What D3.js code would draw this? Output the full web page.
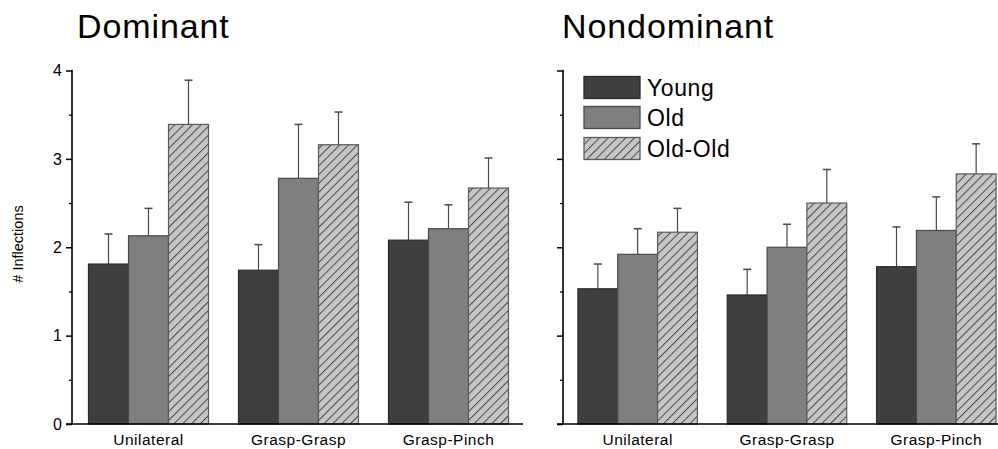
<!DOCTYPE html>
<html>
<head>
<meta charset="utf-8">
<script src="https://cdn.jsdelivr.net/npm/d3@7"></script>
<style>
  html, body { margin: 0; padding: 0; background: #fff; }
  svg { display: block; font-family: Arial, "Liberation Sans", sans-serif; }
</style>
</head>
<body>
<svg id="chart" width="998" height="449"></svg>
<script>
const categories = ["Unilateral", "Grasp-Grasp", "Grasp-Pinch"];
const seriesNames = ["Young", "Old", "Old-Old"];
const panelTitles = ["Dominant", "Nondominant"];
const yTicks = [0, 1, 2, 3, 4];
const yMinorTicks = [0.5, 1.5, 2.5, 3.5];

// Dominant: values per category [Young, Old, Old-Old]
const dominantMeans = [[1.81, 2.13, 3.39], [1.74, 2.78, 3.16], [2.08, 2.21, 2.67]];
const dominantTops  = [[2.15, 2.44, 3.89], [2.03, 3.39, 3.53], [2.51, 2.48, 3.01]];
// Nondominant
const nondominantMeans = [[1.53, 1.92, 2.17], [1.46, 2.00, 2.50], [1.78, 2.19, 2.83]];
const nondominantTops  = [[1.81, 2.21, 2.44], [1.75, 2.26, 2.88], [2.23, 2.57, 3.17]];

const svg = d3.select("#chart");
const defs = svg.append("defs");
const pat = defs.append("pattern")
  .attr("id", "hatch").attr("patternUnits", "userSpaceOnUse")
  .attr("width", 6.2).attr("height", 10)
  .attr("patternTransform", "rotate(45)");
pat.append("rect").attr("width", 6.2).attr("height", 10).attr("fill", "#c6c6c6");
pat.append("line").attr("x1", 0.5).attr("y1", 0).attr("x2", 0.5).attr("y2", 10)
  .attr("stroke", "#4a4a4a").attr("stroke-width", 1);

const fills = ["#3f3f3f", "#7f7f7f", "url(#hatch)"];
const strokes = ["#2a2a2a", "#4a4a4a", "#5a5a5a"];

const y = d3.scaleLinear().domain([0, 4]).range([424, 70.5]);

const panels = [
  { title: panelTitles[0], means: dominantMeans, tops: dominantTops, axisX: 72, range: [73.5, 523.5], xEnd: 523, labels: true, titleX: 77 },
  { title: panelTitles[1], means: nondominantMeans, tops: nondominantTops, axisX: 563, range: [563, 1011], xEnd: 1000, labels: false, titleX: 562 }
];

panels.forEach(p => {
  const g = svg.append("g");
  const x0 = d3.scaleBand().domain(categories).range(p.range).paddingInner(0.2).paddingOuter(0.1);
  const x1 = d3.scaleBand().domain(seriesNames).range([0, x0.bandwidth()]);

  // bars
  categories.forEach((c, ci) => {
    const gg = g.append("g").attr("transform", `translate(${x0(c)},0)`);
    seriesNames.forEach((s, si) => {
      const v = p.means[ci][si], t = p.tops[ci][si];
      const bx = x1(s), bw = x1.bandwidth();
      const cx = bx + bw / 2;
      // error bar
      gg.append("line").attr("x1", cx).attr("x2", cx).attr("y1", y(v)).attr("y2", y(t))
        .attr("stroke", "#4a4a4a").attr("stroke-width", 1.2);
      gg.append("line").attr("x1", cx - 4).attr("x2", cx + 4).attr("y1", y(t)).attr("y2", y(t))
        .attr("stroke", "#4a4a4a").attr("stroke-width", 1.5);
      gg.append("rect").attr("x", bx).attr("y", y(v)).attr("width", bw).attr("height", y(0) - y(v))
        .attr("fill", fills[si]).attr("stroke", strokes[si]).attr("stroke-width", 1.2);
    });
  });

  // y axis
  const ya = d3.axisLeft(y).tickValues(yTicks).tickSize(6).tickPadding(4)
    .tickFormat(p.labels ? d3.format("d") : () => "");
  const yg = g.append("g").attr("transform", `translate(${p.axisX},0)`).call(ya);
  yg.select(".domain").remove();
  yg.selectAll(".tick line").attr("stroke", "#000").attr("stroke-width", 1.5);
  yg.selectAll(".tick text").attr("font-size", 16).attr("fill", "#000")
    .attr("font-family", "Arial, 'Liberation Sans', sans-serif");
  const ym = d3.axisLeft(y).tickValues(yMinorTicks).tickSize(3).tickFormat(() => "");
  const ymg = g.append("g").attr("transform", `translate(${p.axisX},0)`).call(ym);
  ymg.select(".domain").remove();
  ymg.selectAll(".tick line").attr("stroke", "#000").attr("stroke-width", 1.3);
  g.append("line").attr("x1", p.axisX).attr("x2", p.axisX).attr("y1", y(4) - 0.7).attr("y2", y(0))
    .attr("stroke", "#000").attr("stroke-width", 1.6);

  // x axis
  g.append("line").attr("x1", p.axisX - 6).attr("x2", p.xEnd).attr("y1", y(0)).attr("y2", y(0))
    .attr("stroke", "#000").attr("stroke-width", 1.6);
  const xa = d3.axisBottom(x0).tickSize(0).tickPadding(10);
  const xg = g.append("g").attr("transform", `translate(0,${y(0)})`).call(xa);
  xg.select(".domain").remove();
  xg.selectAll(".tick text").attr("font-size", 15.5).attr("fill", "#000")
    .attr("letter-spacing", 0.5)
    .attr("font-family", "Arial, 'Liberation Sans', sans-serif");

  // title
  svg.append("text").attr("x", p.titleX).attr("y", 38).attr("font-size", 34)
    .attr("letter-spacing", 0.9).attr("fill", "#000").text(p.title);
});

// y label
svg.append("text").attr("transform", "translate(23,244) rotate(-90)")
  .attr("text-anchor", "middle").attr("font-size", 14.5).attr("fill", "#000").text("# Inflections");

// legend
const legendYs = [76.5, 106.5, 137.5];
const lg = svg.append("g");
seriesNames.forEach((s, i) => {
  lg.append("rect").attr("x", 584).attr("y", legendYs[i]).attr("width", 56).attr("height", 22)
    .attr("fill", fills[i]).attr("stroke", strokes[i]).attr("stroke-width", 1.3);
  lg.append("text").attr("x", 647).attr("y", legendYs[i] + 19).attr("font-size", 23)
    .attr("letter-spacing", 0.6).attr("fill", "#000").text(s);
});
</script>
</body>
</html>
